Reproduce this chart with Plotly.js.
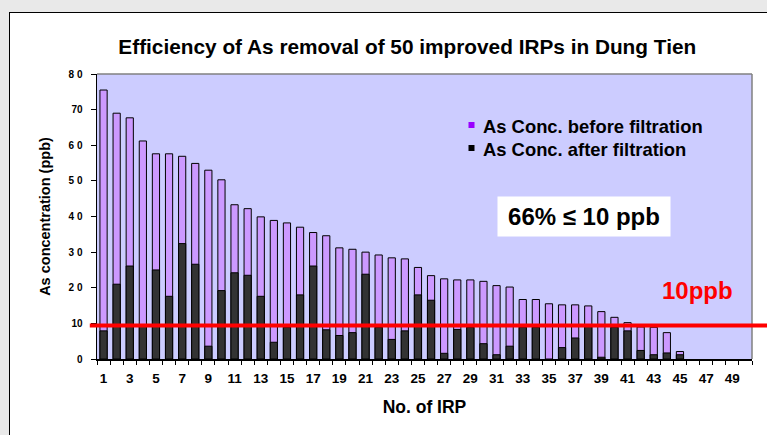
<!DOCTYPE html>
<html>
<head>
<meta charset="utf-8">
<script src="https://cdn.plot.ly/plotly-3.0.1.min.js"></script>
<style>
  html, body { margin: 0; padding: 0; }
  #wrap { position: relative; width: 767px; height: 435px; overflow: hidden; background: #e9e9e9; }
  #frame { position: absolute; left: 9px; top: 12px; width: 800px; height: 500px; background: #ffffff; border: 1px solid #000; }
  #chart { position: absolute; left: 0; top: 0; width: 767px; height: 435px; }
</style>
</head>
<body>
<div id="wrap">
  <div id="frame"></div>
  <div id="chart"></div>
</div>
<script>
// ---- data ----
const irpNo = Array.from({length: 50}, (_, i) => i + 1);
const beforeFiltration = [75.5, 69.0, 67.7, 61.2, 57.6, 57.6, 56.9, 54.9, 53.0, 50.3,
                          43.3, 42.2, 39.9, 38.9, 38.2, 37.0, 35.5, 34.6, 31.2, 30.8,
                          30.0, 29.2, 28.4, 28.1, 25.7, 23.4, 22.5, 22.2, 22.2, 21.8,
                          20.6, 20.2, 16.7, 16.7, 15.5, 15.2, 15.2, 14.9, 13.3, 11.7,
                          10.2, 9.0, 8.9, 7.4, 2.1, 0, 0, 0, 0, 0];
const afterFiltration = [7.9, 21.0, 26.1, 9.2, 25.0, 17.6, 32.4, 26.6, 3.6, 19.2,
                         24.2, 23.5, 17.6, 4.7, 8.9, 18.0, 26.1, 8.2, 6.6, 7.4,
                         23.8, 8.9, 5.5, 7.9, 18.0, 16.5, 1.6, 8.3, 8.9, 4.3,
                         1.2, 3.6, 8.9, 8.9, 0, 3.2, 5.9, 9.1, 0.5, 8.9,
                         7.9, 2.4, 1.2, 1.7, 1.2, 0, 0, 0, 0, 0];
const seriesNames = ["As Conc. before filtration", "As Conc. after filtration"];
const xTickVals = irpNo.filter(n => n % 2 === 1);
const xTickText = xTickVals.map(String);
const yTickVals = [0, 10, 20, 30, 40, 50, 60, 70, 80];
const yTickText = ["0", "10", "2 0", "3 0", "4 0", "5 0", "6 0", "70", "8 0"];
const boundaryTicks = Array.from({length: 51}, (_, i) => i + 0.5);
const thresholdLine = 9.4;
const thresholdLabel = "10ppb";
const shareLabel = "66% ≤ 10 ppb";

const FONT = "Liberation Sans, Arial, sans-serif";
const outline = vals => vals.map(v => (v > 0 ? 1 : 0));

const traces = [
  {
    type: "bar", x: irpNo, y: beforeFiltration, name: seriesNames[0],
    width: 0.55,
    marker: {color: "#cc99ff", line: {color: "#000000", width: outline(beforeFiltration)}},
    showlegend: false, hoverinfo: "skip"
  },
  {
    type: "bar", x: irpNo, y: afterFiltration, name: seriesNames[1],
    width: 0.55,
    marker: {color: "#333333", line: {color: "#000000", width: outline(afterFiltration)}},
    showlegend: false, hoverinfo: "skip"
  }
];

const layout = {
  width: 767, height: 435,
  margin: {l: 97, r: 15, t: 74, b: 76},
  paper_bgcolor: "rgba(0,0,0,0)",
  plot_bgcolor: "#ccccff",
  barmode: "overlay",
  font: {family: FONT, color: "#000000"},
  title: {
    text: "<b>Efficiency of As removal of 50 improved IRPs in Dung Tien</b>",
    font: {family: FONT, size: 20.8, color: "#000000"},
    xref: "container", x: 0.531, xanchor: "center",
    yref: "container", y: 0.892, yanchor: "middle"
  },
  xaxis: {
    range: [0.5, 50.5],
    tickmode: "array", tickvals: xTickVals, ticktext: xTickText,
    ticks: "", ticklabelstandoff: 6,
    tickfont: {family: FONT, size: 13.5, weight: "bold"},
    minor: {tickmode: "array", tickvals: boundaryTicks, ticks: "outside", ticklen: 4, tickwidth: 1, tickcolor: "#000000"},
    showgrid: false, zeroline: false,
    showline: true, linecolor: "#000000", linewidth: 2,
    title: {text: "<b>No. of IRP</b>", font: {family: FONT, size: 17.5}, standoff: 16},
    fixedrange: true
  },
  yaxis: {
    range: [0, 80],
    tickmode: "array", tickvals: yTickVals, ticktext: yTickText,
    ticks: "outside", ticklen: 5, tickwidth: 1, tickcolor: "#000000",
    ticklabelstandoff: 6,
    tickfont: {family: FONT, size: 10, weight: "bold"},
    showgrid: false, zeroline: false,
    showline: true, linecolor: "#000000", linewidth: 1.5,
    title: {text: "<b>As concentration (ppb)</b>", font: {family: FONT, size: 14.5}, standoff: 14},
    fixedrange: true
  },
  shapes: [
    {type: "line", xref: "paper", yref: "paper", x0: 0, x1: 1, y0: 1, y1: 1, line: {color: "#808080", width: 1.5}},
    {type: "line", xref: "paper", yref: "paper", x0: 1, x1: 1, y0: 0, y1: 1, line: {color: "#808080", width: 1.5}},
    {type: "line", xref: "paper", yref: "y", x0: -0.011, x1: 1.03, y0: thresholdLine, y1: thresholdLine, line: {color: "#ff0000", width: 4}},
    {type: "rect", xref: "paper", yref: "paper", x0: (468.5 - 97) / 655, x1: (474.5 - 97) / 655, y0: (359 - 128) / 285, y1: (359 - 122) / 285, fillcolor: "#9900ff", line: {width: 0}},
    {type: "rect", xref: "paper", yref: "paper", x0: (468.5 - 97) / 655, x1: (474.5 - 97) / 655, y0: (359 - 151) / 285, y1: (359 - 145) / 285, fillcolor: "#000000", line: {width: 0}}
  ],
  annotations: [
    {xref: "paper", yref: "paper", x: (481 - 97) / 655, y: (359 - 126) / 285, xanchor: "left", yanchor: "middle",
     text: "<b>" + seriesNames[0] + "</b>", showarrow: false, font: {family: FONT, size: 18.4, color: "#000000"}},
    {xref: "paper", yref: "paper", x: (481 - 97) / 655, y: (359 - 149) / 285, xanchor: "left", yanchor: "middle",
     text: "<b>" + seriesNames[1] + "</b>", showarrow: false, font: {family: FONT, size: 18.4, color: "#000000"}},
    {xref: "paper", yref: "paper", x: (584 - 97) / 655, y: (359 - 216.5) / 285, xanchor: "center", yanchor: "middle",
     text: "<b>" + shareLabel + "</b>", showarrow: false, bgcolor: "#ffffff", width: 172, height: 39, borderpad: 0,
     font: {family: FONT, size: 24, color: "#000000"}},
    {xref: "paper", yref: "paper", x: (697 - 97) / 655, y: (359 - 290) / 285, xanchor: "center", yanchor: "middle",
     text: "<b>" + thresholdLabel + "</b>", showarrow: false, font: {family: FONT, size: 24, color: "#ff0000"}}
  ]
};

Plotly.newPlot("chart", traces, layout, {displayModeBar: false, staticPlot: true});
</script>
</body>
</html>
